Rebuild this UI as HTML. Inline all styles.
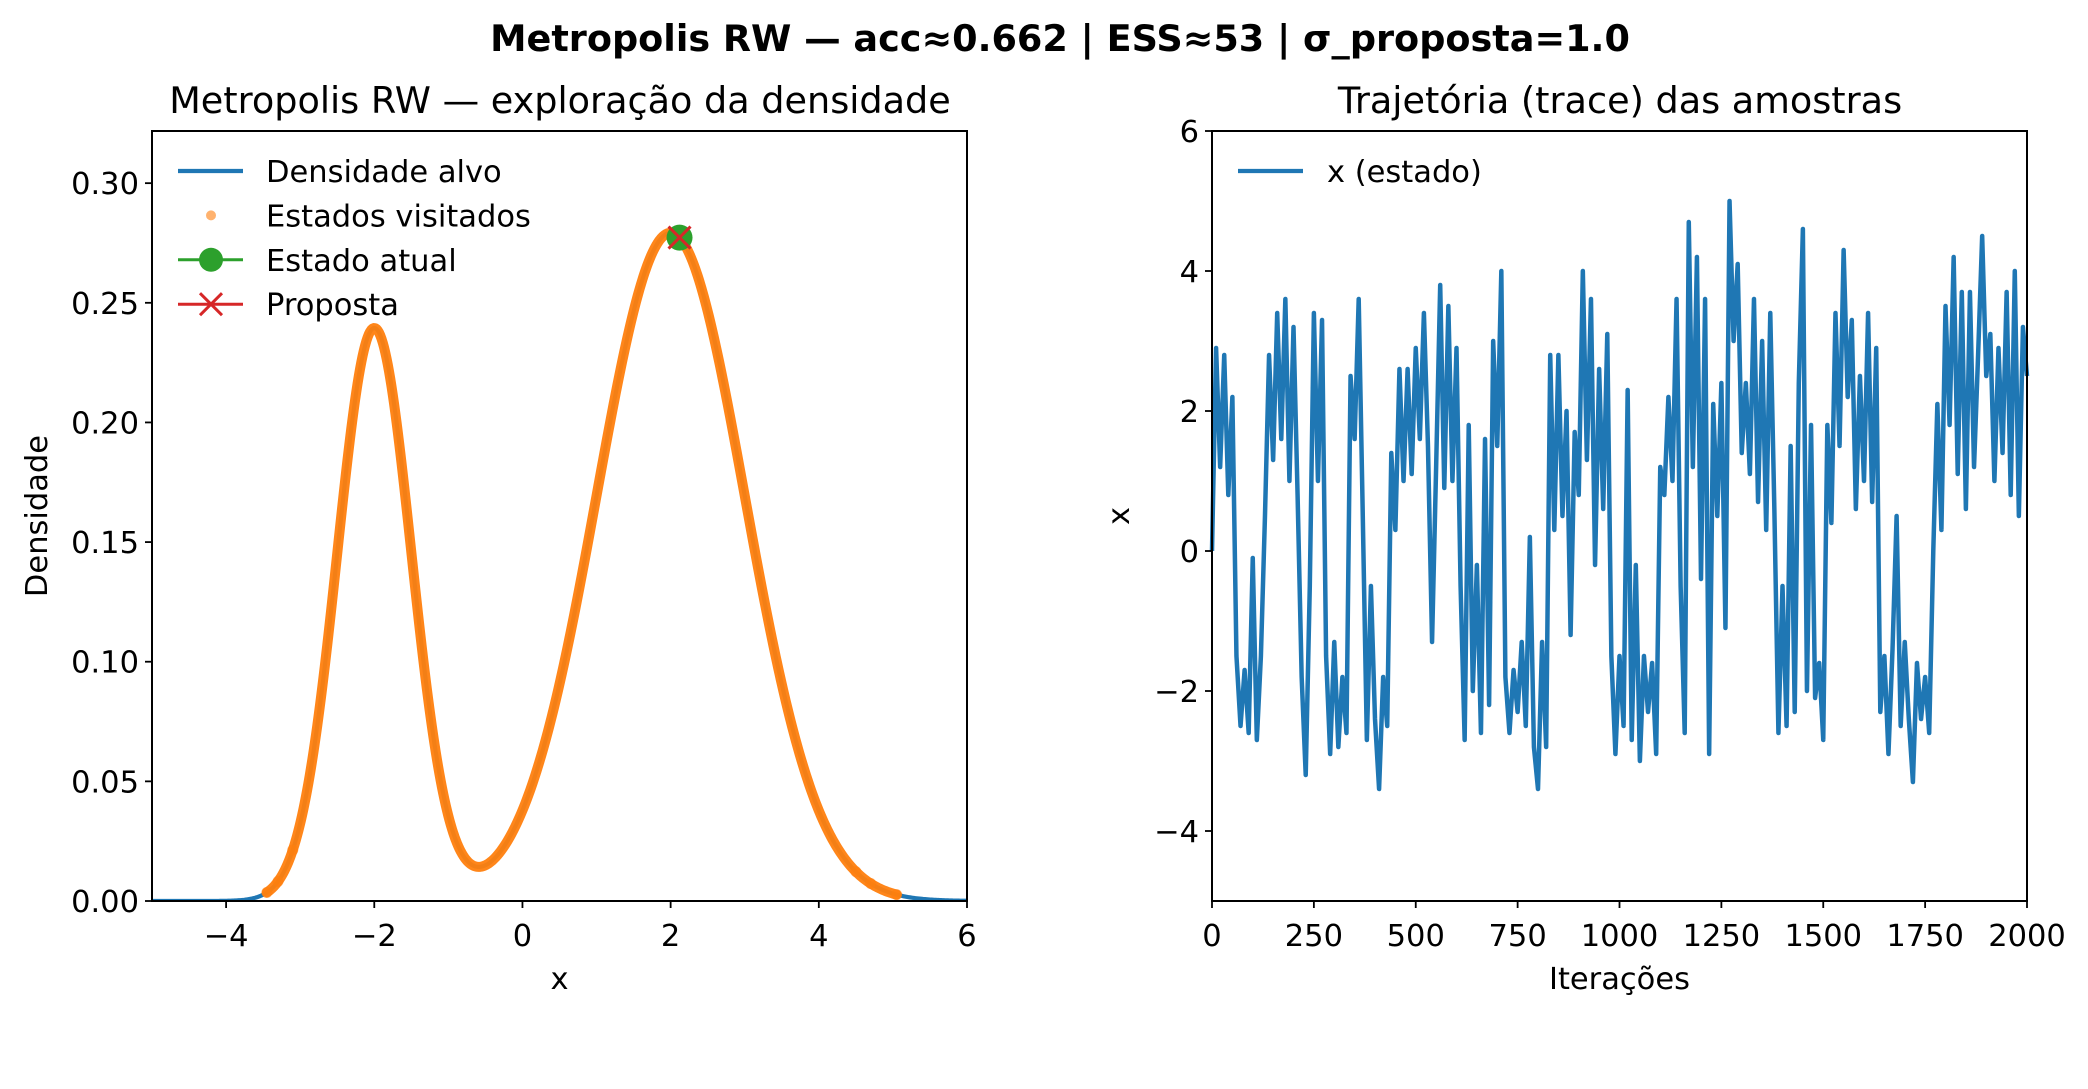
<!DOCTYPE html>
<html><head><meta charset="utf-8"><style>
html,body{margin:0;padding:0;background:#fff;}
svg{display:block;font-family:"DejaVu Sans","Liberation Sans",sans-serif;}
</style></head><body>
<svg id="fig" width="2088" height="1089" viewBox="0 0 2088 1089" xmlns="http://www.w3.org/2000/svg">
<rect width="2088" height="1089" fill="#fff"/>
<text x="1060" y="51" text-anchor="middle" font-size="36.6" font-weight="bold">Metropolis RW — acc≈0.662 | ESS≈53 | σ_proposta=1.0</text>
<text x="560" y="113" text-anchor="middle" font-size="36.6">Metropolis RW — exploração da densidade</text>
<text x="1620" y="113" text-anchor="middle" font-size="36.6">Trajetória (trace) das amostras</text>
<g id="left"></g>
<g id="right"></g>
</svg>
<script>
// ---- density chart data ----
const mixWeights = [0.3, 0.7];
const mixMeans = [-2, 2];
const mixSigmas = [0.5, 1.0];
const visitedRange = [-3.45, 5.05];
const visitedExtra = [-3.45, -3.3, -3.1, 4.5, 4.7, 5.05];
const currentState = [2.12];
const proposalState = [2.12];
const densXTicks = [-4, -2, 0, 2, 4, 6];
const densYTicks = [0, 0.05, 0.10, 0.15, 0.20, 0.25, 0.30];
const densYTickLabels = ["0.00", "0.05", "0.10", "0.15", "0.20", "0.25", "0.30"];
// ---- trace chart data (every 10 iterations) ----
const traceStep = 10;
const traceValues = [
0,2.9,1.2,2.8,0.8,2.2,-1.5,-2.5,-1.7,-2.6,-0.1,-2.7,-1.5,0.5,2.8,1.3,3.4,1.6,3.6,1.0,
3.2,0.8,-1.8,-3.2,-0.5,3.4,1.0,3.3,-1.5,-2.9,-1.3,-2.8,-1.8,-2.6,2.5,1.6,3.6,0.5,-2.7,-0.5,
-2.4,-3.4,-1.8,-2.5,1.4,0.3,2.6,1.0,2.6,1.1,2.9,1.6,3.4,1.5,-1.3,1.2,3.8,0.9,3.5,1.0,
2.9,-0.5,-2.7,1.8,-2.0,-0.2,-2.6,1.6,-2.2,3.0,1.5,4.0,-1.8,-2.6,-1.7,-2.3,-1.3,-2.5,0.2,-2.8,
-3.4,-1.3,-2.8,2.8,0.3,2.8,0.5,2.0,-1.2,1.7,0.8,4.0,1.3,3.6,-0.2,2.6,0.6,3.1,-1.5,-2.9,
-1.5,-2.5,2.3,-2.7,-0.2,-3.0,-1.5,-2.3,-1.6,-2.9,1.2,0.8,2.2,1.0,3.6,-0.5,-2.6,4.7,1.2,4.2,
-0.4,3.6,-2.9,2.1,0.5,2.4,-1.1,5.0,3.0,4.1,1.4,2.4,1.1,3.6,0.7,3.0,0.3,3.4,0.6,-2.6,
-0.5,-2.5,1.5,-2.3,2.4,4.6,-2.0,1.8,-2.1,-1.6,-2.7,1.8,0.4,3.4,1.5,4.3,2.2,3.3,0.6,2.5,
1.0,3.4,0.7,2.9,-2.3,-1.5,-2.9,-1.4,0.5,-2.5,-1.3,-2.4,-3.3,-1.6,-2.4,-1.8,-2.6,0.0,2.1,0.3,
3.5,1.8,4.2,1.1,3.7,0.6,3.7,1.2,2.8,4.5,2.5,3.1,1.0,2.9,1.4,3.7,0.8,4.0,0.5,3.2,2.5];
const traceXTicks = [0, 250, 500, 750, 1000, 1250, 1500, 1750, 2000];
const traceYTicks = [-4, -2, 0, 2, 4, 6];

const NS = "http://www.w3.org/2000/svg";
const FS = 30.5;
function mk(parent, tag, attrs, text) {
  const e = document.createElementNS(NS, tag);
  for (const k in attrs) e.setAttribute(k, attrs[k]);
  if (text !== undefined) e.textContent = text;
  parent.appendChild(e);
  return e;
}
function fmtMinus(v){ return String(v).replace('-', '−'); }
function dens(x){
  let s = 0;
  for (let i = 0; i < mixWeights.length; i++) {
    const z = (x - mixMeans[i]) / mixSigmas[i];
    s += mixWeights[i] * Math.exp(-0.5*z*z) / (mixSigmas[i]*Math.sqrt(2*Math.PI));
  }
  return s;
}

// ---------- left: density ----------
const L = document.getElementById('left');
const lx0 = 152, lx1 = 967, ly0 = 131, ly1 = 901;
const dxMin = -5, dxMax = 6, dyMin = 0, dyMax = 0.3218;
const sx = v => lx0 + (v - dxMin) / (dxMax - dxMin) * (lx1 - lx0);
const sy = v => ly1 - (v - dyMin) / (dyMax - dyMin) * (ly1 - ly0);
const cp = mk(L, 'clipPath', {id: 'clipL'});
mk(cp, 'rect', {x: lx0, y: ly0, width: lx1-lx0, height: ly1-ly0});
let pts = [];
for (let i = 0; i <= 600; i++) { const x = dxMin + (dxMax-dxMin)*i/600; pts.push(sx(x).toFixed(2)+','+sy(dens(x)).toFixed(2)); }
const curve = mk(L, 'polyline', {points: pts.join(' '), fill: 'none', stroke: '#1f77b4', 'stroke-width': 4.2, 'clip-path': 'url(#clipL)'});


let vp = [];
for (let i = 0; i <= 500; i++) { const x = visitedRange[0] + (visitedRange[1]-visitedRange[0])*i/500; vp.push(sx(x).toFixed(2)+','+sy(dens(x)).toFixed(2)); }
const vis = mk(L, 'polyline', {points: vp.join(' '), fill: 'none', stroke: '#ff7f0e', 'stroke-width': 10, 'stroke-linecap': 'round', 'stroke-linejoin': 'round', opacity: 0.95});


visitedExtra.forEach(v => {
  const c = mk(L, 'circle', {cx: sx(v), cy: sy(dens(v)), r: 5.5, fill: '#ff7f0e', opacity: 0.6});
  
  
});
currentState.forEach(v => {
  const c = mk(L, 'circle', {cx: sx(v), cy: sy(dens(v)), r: 13, fill: '#2ca02c'});
  
  
});
proposalState.forEach(v => {
  const X = sx(v), Y = sy(dens(v)), d = 11;
  const g = mk(L, 'path', {d: `M${X-d},${Y-d}L${X+d},${Y+d}M${X-d},${Y+d}L${X+d},${Y-d}`, stroke: '#d62728', 'stroke-width': 3, fill: 'none'});
  
  
});
const lf = mk(L, 'rect', {x: lx0, y: ly0, width: lx1-lx0, height: ly1-ly0, fill: 'none', stroke: '#000', 'stroke-width': 2});


densXTicks.forEach(t => {
  mk(L, 'line', {x1: sx(t), x2: sx(t), y1: ly1, y2: ly1+7, stroke: '#000', 'stroke-width': 1.8});
  const tx = mk(L, 'text', {x: sx(t), y: 946, 'text-anchor': 'middle', 'font-size': FS}, fmtMinus(t));
  
  
});
densYTicks.forEach((t, i) => {
  mk(L, 'line', {x1: lx0-7, x2: lx0, y1: sy(t), y2: sy(t), stroke: '#000', 'stroke-width': 1.8});
  const tx = mk(L, 'text', {x: lx0-13, y: sy(t)+11, 'text-anchor': 'end', 'font-size': FS}, densYTickLabels[i]);
  
  
});
const lxl = mk(L, 'text', {x: (lx0+lx1)/2, y: 989, 'text-anchor': 'middle', 'font-size': FS}, 'x');


const lyl = mk(L, 'text', {x: 0, y: 0, transform: `translate(47,${(ly0+ly1)/2}) rotate(-90)`, 'text-anchor': 'middle', 'font-size': FS}, 'Densidade');


// legend
const legItems = [
  ['Densidade alvo', 'line', '#1f77b4'],
  ['Estados visitados', 'dot', '#ff7f0e'],
  ['Estado atual', 'circle', '#2ca02c'],
  ['Proposta', 'x', '#d62728']
];
legItems.forEach((it, i) => {
  const y = 171 + i*44.4;
  const g = mk(L, 'g', {});
  
  
  if (it[1] === 'line') mk(g, 'line', {x1: 178, x2: 243, y1: y, y2: y, stroke: it[2], 'stroke-width': 4.2});
  if (it[1] === 'dot') mk(g, 'circle', {cx: 211, cy: y, r: 5, fill: it[2], opacity: 0.6});
  if (it[1] === 'circle') { mk(g, 'line', {x1: 178, x2: 243, y1: y, y2: y, stroke: it[2], 'stroke-width': 3}); mk(g, 'circle', {cx: 211, cy: y, r: 12, fill: it[2]}); }
  if (it[1] === 'x') { mk(g, 'line', {x1: 178, x2: 243, y1: y, y2: y, stroke: it[2], 'stroke-width': 3}); mk(g, 'path', {d: `M200,${y-11}L222,${y+11}M200,${y+11}L222,${y-11}`, stroke: it[2], 'stroke-width': 3}); }
  mk(g, 'text', {x: 266, y: y+11, 'font-size': FS}, it[0]);
});

// ---------- right: trace ----------
const R = document.getElementById('right');
const rx0 = 1212, rx1 = 2027, ry0 = 131, ry1 = 901;
const txMin = 0, txMax = 2000, tyMin = -5, tyMax = 6;
const tx = v => rx0 + (v - txMin) / (txMax - txMin) * (rx1 - rx0);
const ty = v => ry1 - (v - tyMin) / (tyMax - tyMin) * (ry1 - ry0);
const tp = traceValues.map((v, i) => tx(i*traceStep).toFixed(2)+','+ty(v).toFixed(2));
const tl = mk(R, 'polyline', {points: tp.join(' '), fill: 'none', stroke: '#1f77b4', 'stroke-width': 4.5, 'stroke-linejoin': 'round'});


const rf = mk(R, 'rect', {x: rx0, y: ry0, width: rx1-rx0, height: ry1-ry0, fill: 'none', stroke: '#000', 'stroke-width': 2});


traceXTicks.forEach(t => {
  mk(R, 'line', {x1: tx(t), x2: tx(t), y1: ry1, y2: ry1+7, stroke: '#000', 'stroke-width': 1.8});
  const e = mk(R, 'text', {x: tx(t), y: 946, 'text-anchor': 'middle', 'font-size': FS}, String(t));
  
  
});
traceYTicks.forEach(t => {
  mk(R, 'line', {x1: rx0-7, x2: rx0, y1: ty(t), y2: ty(t), stroke: '#000', 'stroke-width': 1.8});
  const e = mk(R, 'text', {x: rx0-13, y: ty(t)+11, 'text-anchor': 'end', 'font-size': FS}, fmtMinus(t));
  
  
});
const rxl = mk(R, 'text', {x: (rx0+rx1)/2, y: 989, 'text-anchor': 'middle', 'font-size': FS}, 'Iterações');


const ryl = mk(R, 'text', {x: 0, y: 0, transform: `translate(1129,${(ry0+ry1)/2}) rotate(-90)`, 'text-anchor': 'middle', 'font-size': FS}, 'x');


const rl = mk(R, 'g', {});


mk(rl, 'line', {x1: 1238, x2: 1303, y1: 171, y2: 171, stroke: '#1f77b4', 'stroke-width': 4.2});
mk(rl, 'text', {x: 1327, y: 182, 'font-size': FS}, 'x (estado)');
</script>
</body></html>
